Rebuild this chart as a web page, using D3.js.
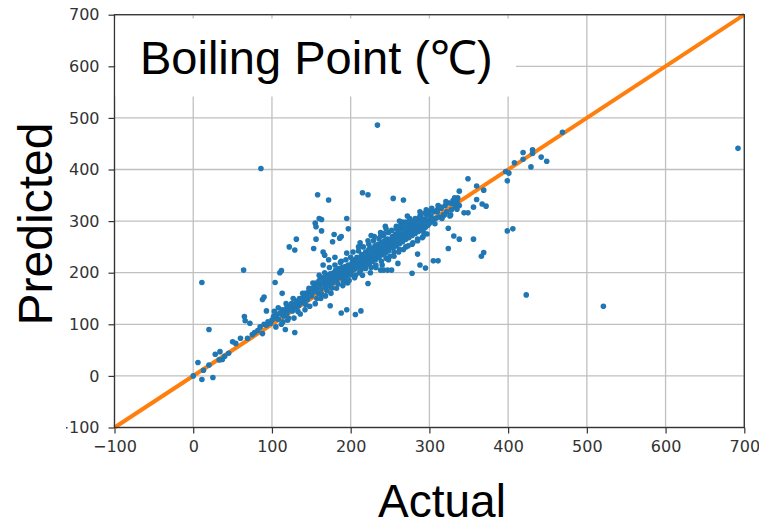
<!DOCTYPE html>
<html>
<head>
<meta charset="utf-8">
<script src="https://cdn.jsdelivr.net/npm/d3@7"></script>
<style>
  body { margin: 0; background: #fff; }
  .tick text { font-family: "DejaVu Sans", sans-serif; font-size: 16px; fill: #333; }
</style>
</head>
<body>
<div id="chart"></div>
<script>
// [actual, predicted]
const outliers = [
    [692, 441], [521, 135], [423, 157], [234, 486], [86, 402], [64, 205], [11, 181], [20, 90],
    [158, 351], [172, 341], [215, 355], [222, 351], [254, 344], [267, 341],
    [160, 305], [163, 303], [155, 296], [156, 289], [163, 281], [195, 305], [197, 285],
    [179, 274], [186, 267], [188, 270], [177, 260], [156, 265], [153, 247], [131, 265],
    [122, 250], [129, 244], [165, 240], [167, 234], [112, 204], [110, 200], [104, 181],
    [113, 160], [90, 153], [88, 148], [93, 126], [117, 90], [129, 84], [174, 136],
    [188, 122], [195, 128], [206, 119], [213, 126], [221, 218], [222, 179],
    [469, 472], [419, 433], [431, 438], [431, 431], [408, 413], [419, 420], [429, 405],
    [442, 424], [449, 416], [397, 396], [401, 393], [399, 378], [399, 281], [406, 285],
    [349, 382], [338, 358], [360, 368], [369, 360], [360, 342], [367, 333], [372, 329],
    [356, 327], [349, 316], [344, 316], [335, 323], [329, 334], [335, 338], [314, 327],
    [310, 318], [319, 312], [326, 310], [324, 286], [331, 271], [338, 265], [356, 265],
    [324, 247], [369, 239], [366, 232], [305, 223], [311, 223], [295, 209], [288, 215],
    [285, 236], [278, 199], [238, 205], [242, 205], [247, 205], [252, 205], [238, 271],
    [242, 276], [261, 288], [260, 218]
];

const lowEnd = [
    [0, 0], [6, 26], [11, -7], [25, -3], [13, 11], [20, 21], [28, 42], [34, 47], [37, 32],
    [33, 31], [40, 38], [45, 44], [50, 66], [54, 63], [60, 73], [65, 115], [66, 107],
    [69, 73], [72, 102], [75, 80], [78, 84], [82, 88], [85, 95], [88, 82], [90, 100],
    [93, 98], [95, 105], [98, 102]
];

const midLow = [
    [100, 108], [102, 115], [104, 112], [106, 118], [108, 110], [110, 122], [112, 120],
    [113, 128], [115, 116], [116, 125], [118, 130], [119, 122], [120, 135], [122, 128],
    [124, 133], [125, 140], [126, 126], [128, 138], [130, 132], [131, 145], [132, 140],
    [134, 136], [135, 150], [137, 142], [138, 148], [140, 155], [141, 146], [142, 160],
    [144, 152], [145, 148], [146, 162], [148, 158], [149, 168], [150, 155],
    [105, 95], [112, 100], [120, 108], [128, 112], [136, 120], [142, 128], [148, 135]
];

const midHigh = [
    [151, 170], [152, 162], [154, 175], [155, 165], [156, 180], [158, 172], [159, 160],
    [160, 185], [161, 176], [162, 168], [164, 190], [165, 178], [166, 185], [168, 172],
    [169, 195], [170, 182], [171, 190], [172, 176], [174, 198], [175, 186], [176, 192],
    [177, 180], [178, 200], [179, 188], [180, 195], [181, 205], [182, 185], [183, 198],
    [184, 192], [185, 208], [186, 196], [187, 202], [188, 190], [189, 210], [190, 198],
    [191, 205], [192, 188], [193, 212], [194, 200], [195, 206], [196, 194], [197, 215],
    [198, 202], [199, 208], [200, 196],
    [155, 140], [162, 150], [168, 155], [175, 160], [182, 170], [190, 175], [196, 180],
    [165, 215], [172, 225], [180, 230], [188, 222], [195, 238]
];

const upperMid = [
    [201, 212], [202, 220], [203, 205], [204, 215], [205, 225], [206, 208], [207, 218],
    [208, 230], [209, 212], [210, 222], [211, 200], [212, 228], [213, 215], [214, 235],
    [215, 220], [216, 210], [217, 230], [218, 225], [219, 240], [220, 215], [221, 232],
    [222, 226], [223, 245], [224, 218], [225, 236], [226, 228], [227, 248], [228, 222],
    [229, 240], [230, 232], [231, 252], [232, 226], [233, 244], [234, 236], [235, 255],
    [236, 230], [237, 248], [238, 240], [239, 258], [240, 235], [241, 252], [242, 244],
    [243, 262], [244, 238], [245, 255], [246, 248], [247, 265], [248, 242], [249, 258],
    [250, 250],
    [205, 190], [215, 195], [225, 200], [232, 210], [240, 215], [248, 225],
    [210, 250], [222, 262], [230, 270], [238, 278], [245, 285]
];

const highEnd = [
    [251, 262], [252, 255], [253, 270], [254, 248], [255, 265], [256, 258], [257, 275],
    [258, 252], [259, 268], [260, 262], [261, 280], [262, 256], [263, 272], [264, 266],
    [265, 285], [266, 260], [267, 276], [268, 270], [269, 288], [270, 265], [271, 280],
    [272, 274], [273, 292], [274, 268], [275, 284], [276, 278], [277, 296], [278, 272],
    [279, 288], [280, 282], [281, 300], [282, 276], [283, 292], [284, 286], [285, 304],
    [286, 280], [287, 296], [288, 290], [289, 308], [290, 284], [291, 300], [292, 294],
    [293, 278], [294, 304], [295, 288], [296, 298], [297, 312], [298, 292], [299, 302],
    [300, 296],
    [255, 240], [262, 245], [270, 250], [278, 255], [285, 262], [292, 270],
    [258, 290], [266, 298], [275, 305],
    [302, 310], [304, 300], [306, 318], [308, 305], [310, 322], [312, 308], [315, 325],
    [318, 312], [320, 330], [322, 318], [325, 335], [328, 322], [330, 340], [333, 328],
    [336, 345]
];

// the looser edge of the band
const spread = [
    [103, 125], [108, 132], [114, 105], [118, 140], [121, 112], [127, 150], [133, 125],
    [139, 160], [143, 138], [147, 170],
    [152, 180], [157, 150], [160, 195], [163, 158], [167, 200], [170, 165], [173, 210],
    [176, 170], [180, 215], [184, 178], [187, 220], [191, 182], [194, 225], [198, 185],
    [200, 230],
    [203, 240], [206, 195], [210, 242], [213, 205], [216, 250], [219, 208], [223, 255],
    [226, 210], [229, 262], [232, 215], [236, 266], [239, 222], [242, 272], [245, 228],
    [248, 278], [250, 232], [212, 258], [226, 272], [244, 290],
    [252, 282], [255, 232], [258, 285], [261, 240], [264, 292], [267, 245], [270, 298],
    [273, 252], [276, 300], [279, 258], [282, 305], [285, 265], [288, 310], [291, 268],
    [294, 315], [297, 275], [300, 318], [262, 300], [272, 310], [288, 318], [296, 322],
    [303, 325], [307, 295], [311, 330], [316, 305], [321, 338], [327, 312], [332, 345],
    [338, 330]
];

const tickValues = [-100, 0, 100, 200, 300, 400, 500, 600, 700];
const domain = [-100, 700];

const points = [].concat(lowEnd, midLow, midHigh, upperMid, highEnd, spread, outliers);

const width = 759, height = 526;
const svg = d3.select('#chart').append('svg')
    .attr('width', width)
    .attr('height', height);

const x = d3.scaleLinear().domain(domain).range([114.5, 744.3]);
const y = d3.scaleLinear().domain(domain).range([427.5, 14.7]);

// grid
svg.append('g')
    .selectAll('line')
    .data(tickValues)
  .enter().append('line')
    .attr('x1', d => x(d)).attr('x2', d => x(d))
    .attr('y1', y(700)).attr('y2', y(-100))
    .attr('stroke', '#c0c0c0').attr('stroke-width', 1.3);
svg.append('g')
    .selectAll('line')
    .data(tickValues)
  .enter().append('line')
    .attr('y1', d => y(d)).attr('y2', d => y(d))
    .attr('x1', x(-100)).attr('x2', x(700))
    .attr('stroke', '#c0c0c0').attr('stroke-width', 1.3);

const fmt = d => d < 0 ? '\u2212' + Math.abs(d) : String(d);

const xAxis = svg.append('g')
    .attr('transform', 'translate(0,' + y(-100) + ')')
    .call(d3.axisBottom(x).tickValues(tickValues).tickFormat(fmt).tickSize(6).tickPadding(7));
const yAxis = svg.append('g')
    .attr('transform', 'translate(' + x(-100) + ',0)')
    .call(d3.axisLeft(y).tickValues(tickValues).tickFormat(fmt).tickSize(6).tickPadding(9));
[xAxis, yAxis].forEach(a => {
    a.select('.domain').remove();
    a.selectAll('.tick line').attr('stroke', '#333').attr('stroke-width', 1.2);
});

// y = x reference line
svg.append('line')
    .attr('x1', x(-100)).attr('y1', y(-100))
    .attr('x2', x(700)).attr('y2', y(700))
    .attr('stroke', '#ff7f0e').attr('stroke-width', 4);

svg.append('g')
    .selectAll('circle')
    .data(points)
  .enter().append('circle')
    .attr('cx', d => x(d[0]))
    .attr('cy', d => y(d[1]))
    .attr('r', 2.8)
    .attr('fill', '#1f77b4');

// frame
svg.append('rect')
    .attr('x', x(-100)).attr('y', y(700))
    .attr('width', x(700) - x(-100)).attr('height', y(-100) - y(700))
    .attr('fill', 'none').attr('stroke', '#333').attr('stroke-width', 1.3);

// title box
svg.append('rect')
    .attr('x', x(-100) + 1).attr('y', 18.5)
    .attr('width', 516 - x(-100) - 1).attr('height', 78)
    .attr('fill', '#fff');
svg.append('text')
    .attr('x', 140).attr('y', 74)
    .style('font-family', '"Liberation Sans", Arial, sans-serif')
    .style('font-size', '47px')
    .text('Boiling Point (\u2103)');

// y label box
svg.append('rect')
    .attr('x', 0).attr('y', 0)
    .attr('width', 66).attr('height', height)
    .attr('fill', '#fff');
svg.append('text')
    .attr('transform', 'translate(52,224) rotate(-90)')
    .attr('text-anchor', 'middle')
    .style('font-family', '"Liberation Sans", Arial, sans-serif')
    .style('font-size', '48px')
    .text('Predicted');

svg.append('text')
    .attr('x', 442).attr('y', 517)
    .attr('text-anchor', 'middle')
    .style('font-family', '"Liberation Sans", Arial, sans-serif')
    .style('font-size', '46px')
    .text('Actual');
</script>
</body>
</html>
